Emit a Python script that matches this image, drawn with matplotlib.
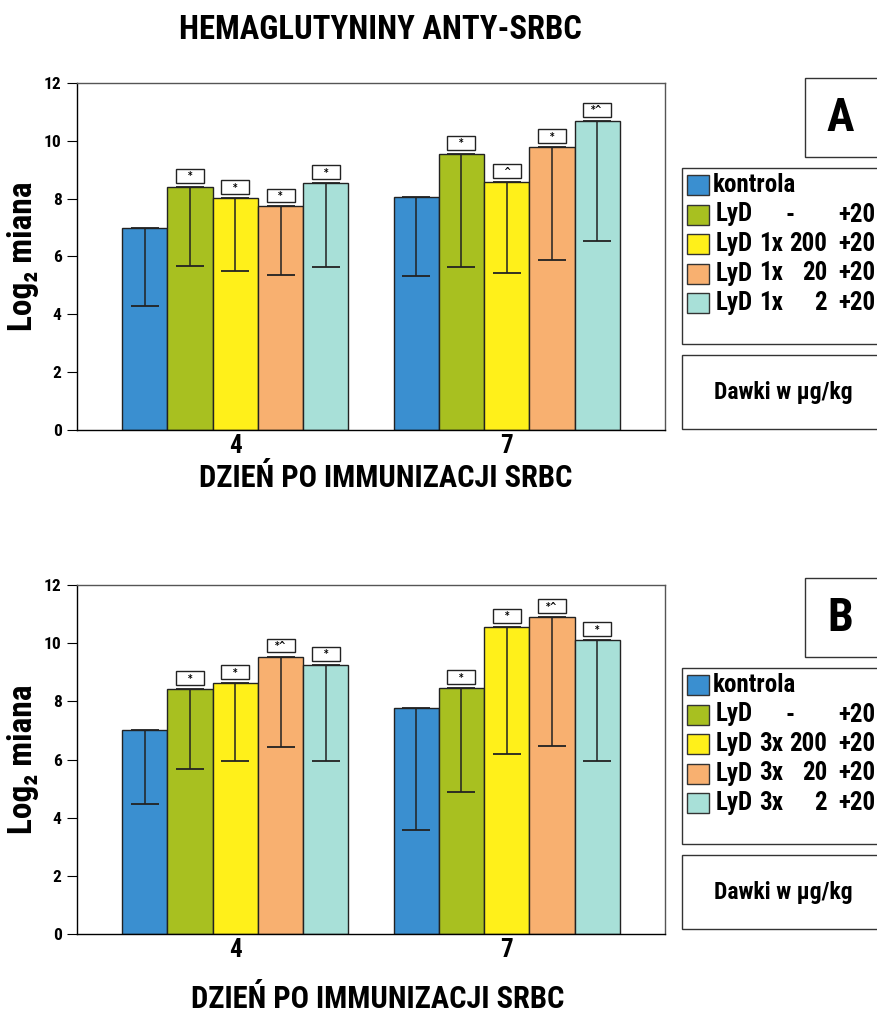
import matplotlib
matplotlib.use('Agg')
import matplotlib.pyplot as plt
import matplotlib.font_manager as fm
from matplotlib.patches import Rectangle
import numpy as np
import os

# look for a condensed bold face (the original uses a condensed grotesque)
prefs = ['liberationsansnarrow-bold.', 'robotocondensed-bold.', 'roboto_condensed-bold.',
         'notosans-condensedbold.', 'notosanscondensed-bold.', 'opensans-condensedbold.',
         'opensans_condensed-bold.', 'dejavusanscondensed-bold.']
files = fm.findSystemFonts()
found = None
for p in prefs:
    for f in files:
        if os.path.basename(f).lower().startswith(p):
            found = f
            break
    if found:
        break

fam = 'DejaVu Sans'
stretch = 'normal'
if found:
    fm.fontManager.addfont(found)
    for e in fm.fontManager.ttflist:
        if e.fname == found:
            fam = e.name
            stretch = e.stretch
            break

plt.rcParams['font.family'] = [fam, 'DejaVu Sans']
plt.rcParams['font.stretch'] = stretch
plt.rcParams['font.weight'] = 'bold'

# data
days = ['4', '7']
colors = ['#3a8fd0', '#a8c020', '#fff01a', '#f8b070', '#a8e0d8']

# panel A (LyD 1x)
a_top = [[7.0, 8.41, 8.02, 7.73, 8.53],
         [8.05, 9.55, 8.57, 9.78, 10.70]]
a_low = [[4.3, 5.67, 5.49, 5.37, 5.65],
         [5.34, 5.65, 5.44, 5.88, 6.52]]
a_marks = [['', '*', '*', '*', '*'],
           ['', '*', '^', '*', '*^']]
a_doses = ['1x', '1x', '1x']

# panel B (LyD 3x)
b_top = [[7.0, 8.42, 8.62, 9.54, 9.26],
         [7.76, 8.45, 10.57, 10.89, 10.10]]
b_low = [[4.46, 5.67, 5.95, 6.42, 5.95],
         [3.57, 4.89, 6.19, 6.48, 5.95]]
b_marks = [['', '*', '*', '*^', '*'],
           ['', '*', '*', '*^', '*']]
b_doses = ['3x', '3x', '3x']

dose_vals = ['200', '20', '2']

W, H = 877, 1014
fig = plt.figure(figsize=(W / 100, H / 100), dpi=100)
fig.patch.set_facecolor('white')

# overlay in pixel coords for boxes/legends
ov = fig.add_axes([0, 0, 1, 1], zorder=-1)
ov.set_xlim(0, W)
ov.set_ylim(H, 0)
ov.axis('off')


def panel(y_top, y_bot, top, low, marks):
    ax = fig.add_axes([77 / W, 1 - y_bot / H, (665 - 77) / W, (y_bot - y_top) / H])
    w = 1 / 6
    top = np.array(top)
    low = np.array(low)
    for g in range(len(days)):
        for i in range(5):
            x = g + (i - 2) * w
            ax.bar(x, top[g, i], width=w, color=colors[i], edgecolor='#222222',
                   linewidth=1.0, zorder=2)
            ax.errorbar(x, top[g, i], yerr=[[top[g, i] - low[g, i]], [0]],
                        fmt='none', ecolor='#222222', elinewidth=1.1,
                        capsize=10, capthick=1.3, zorder=3)
            if marks[g][i]:
                bw = 0.62 * w
                ax.add_patch(Rectangle((x - bw / 2, top[g, i] + 0.14), bw, 0.48,
                                       facecolor='white', edgecolor='#222222',
                                       linewidth=1.0, zorder=4, clip_on=False))
                ax.text(x, top[g, i] + 0.36, marks[g][i], ha='center', va='center',
                        fontsize=7, zorder=5, family=['DejaVu Sans'])
    ax.set_xlim(-3.5 * w, 1 + 3.5 * w)
    ax.set_ylim(0, 12)
    ax.set_yticks(range(0, 13, 2))
    ax.set_xticks(range(len(days)))
    ax.set_xticklabels(days, fontsize=18)
    ax.tick_params(axis='x', length=0, pad=3)
    ax.tick_params(axis='y', length=7, width=0.8, labelsize=12.5, pad=4)
    for s in ax.spines.values():
        s.set_linewidth(1.0)
    ax.spines['top'].set_color('#555555')
    ax.spines['right'].set_color('#555555')
    # y label, drawn as figure text so it sits like the original
    yc = 1 - (y_top + y_bot) / 2 / H
    fig.text(23 / W, yc, 'Log₂ miana', rotation=90, ha='center', va='center', fontsize=24)
    return ax


def legend(letter, y0, doses):
    # letter box
    lb_y = y0 - 90
    ov.add_patch(Rectangle((805, lb_y), 80, 79, facecolor='white', edgecolor='#333333', lw=1.0))
    ov.text(840, lb_y + 40, letter, ha='center', va='center', fontsize=33)
    # legend box
    ov.add_patch(Rectangle((682, y0), 200, 176, facecolor='white', edgecolor='#333333', lw=1.0))
    for i in range(5):
        yc = y0 + 17 + i * 29.5
        ov.add_patch(Rectangle((687, yc - 10), 22, 20, facecolor=colors[i],
                               edgecolor='#333333', lw=1.0))
        if i == 0:
            ov.text(713, yc, 'kontrola', va='center', fontsize=18)
            continue
        ov.text(716, yc, 'LyD', va='center', fontsize=18)
        if i == 1:
            ov.text(790, yc, '-', va='center', ha='center', fontsize=18)
        else:
            ov.text(759, yc, doses[i - 2], va='center', fontsize=18)
            ov.text(827, yc, dose_vals[i - 2], va='center', ha='right', fontsize=18)
        ov.text(875, yc, '+20', va='center', ha='right', fontsize=18)
    # dose box
    ov.add_patch(Rectangle((682, y0 + 187), 200, 74, facecolor='white', edgecolor='#333333', lw=1.0))
    ov.text(783, y0 + 224, 'Dawki w µg/kg', ha='center', va='center', fontsize=17)


panel(83, 430, a_top, a_low, a_marks)
panel(585, 934, b_top, b_low, b_marks)
legend('A', 168, a_doses)
legend('B', 668, b_doses)

fig.text(380 / W, 1 - 30 / H, 'HEMAGLUTYNINY ANTY-SRBC', ha='center', va='center', fontsize=23.5)
fig.text(386 / W, 1 - 478 / H, 'DZIEŃ PO IMMUNIZACJI SRBC', ha='center', va='center', fontsize=22)
fig.text(378 / W, 1 - 999 / H, 'DZIEŃ PO IMMUNIZACJI SRBC', ha='center', va='center', fontsize=22)

fig.savefig('out.png', dpi=100)
